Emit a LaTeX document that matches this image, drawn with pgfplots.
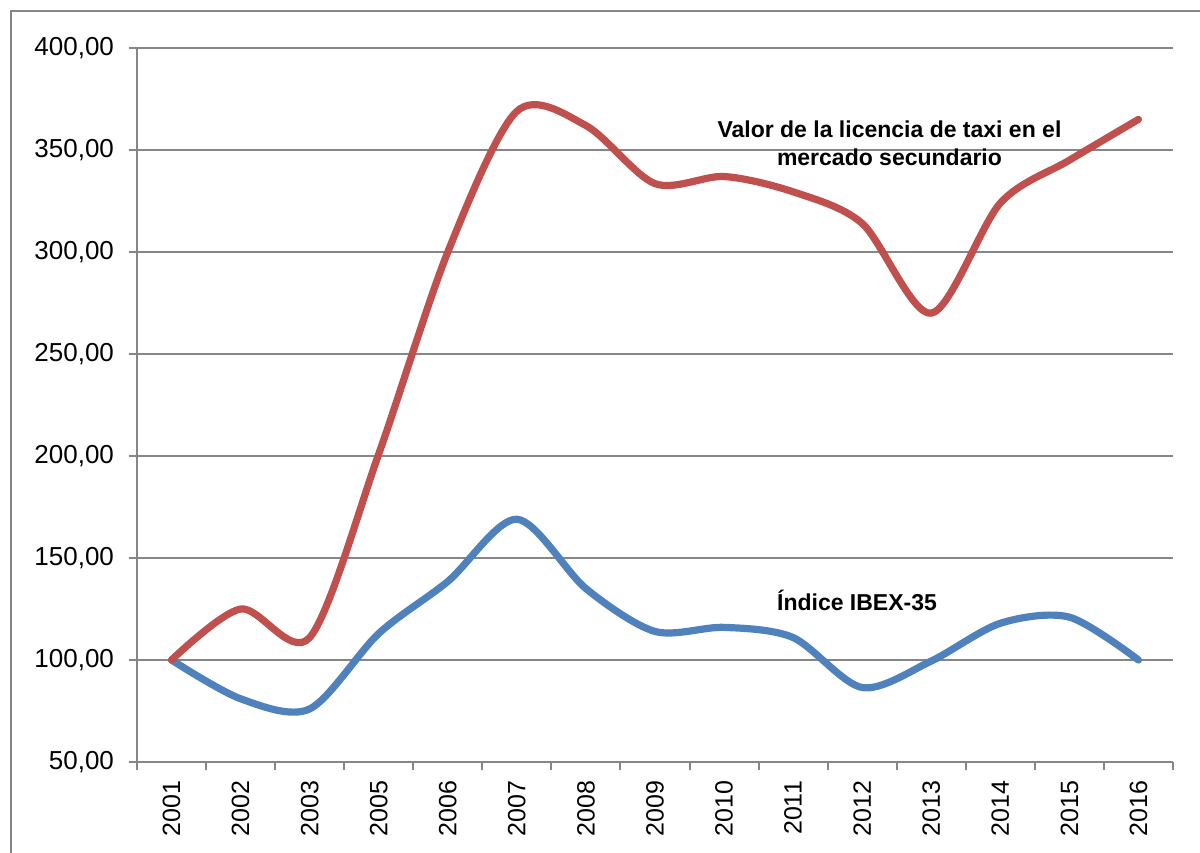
\documentclass[border=0pt]{standalone}
\usepackage{pgfplots}
\pgfplotsset{compat=1.18}
\usepackage{fontspec}
\setmainfont{Liberation Sans}
\definecolor{exred}{HTML}{C0504D}
\definecolor{exblue}{HTML}{4F81BD}
\definecolor{exgrid}{HTML}{868686}
\begin{document}
\begin{tikzpicture}
\useasboundingbox (-68.5pt,-45pt) rectangle (531.5pt,381pt);
\draw[exgrid, line width=1.25pt] (-63pt,-46pt) -- (-63pt,375.5pt) -- (532pt,375.5pt);
\begin{axis}[
  at={(0,0)}, anchor=south west,
  scale only axis, width=518pt, height=357pt,
  xmin=-0.5, xmax=14.5, ymin=50, ymax=400,
  axis lines*=left,
  axis line style={exgrid, line width=1pt, -},
  ytick={50,100,...,400},
  ymajorgrids,
  grid style={exgrid, line width=1pt},
  tick align=outside,
  major tick length=4pt,
  tick style={exgrid, line width=1pt},
  xtick={-0.5,0.5,...,14.5},
  xticklabels={},
  extra x ticks={0,1,...,14},
  extra x tick labels={2001,2002,2003,2005,2006,2007,2008,2009,2010,2011,2012,2013,2014,2015,2016},
  extra x tick style={major tick length=0pt},
  xticklabel style={yshift=-6pt, rotate=90, anchor=east, font=\fontsize{12.5}{14}\selectfont},
  yticklabel style={xshift=-4pt, font=\fontsize{13}{15}\selectfont},
  /pgf/number format/fixed,
  /pgf/number format/fixed zerofill,
  /pgf/number format/precision=2,
  /pgf/number format/use comma,
  /pgf/number format/1000 sep={},
  /pgf/number format/assume math mode=true,
  clip=false,
]
\addplot[exblue, line width=3.6pt, smooth, line cap=round, line join=round] coordinates {
(0,100) (1,81) (2,76) (3,113) (4,138.5) (5,169) (6,135) (7,114) (8,116) (9,111) (10,86.5) (11,99.5) (12,118) (13,121) (14,100)};
\addplot[exred, line width=3.6pt, smooth, line cap=round, line join=round] coordinates {
(0,100) (1,125) (2,111) (3,201) (4,300) (5,369) (6,362) (7,333.5) (8,337) (9,329.5) (10,314) (11,270) (12,324) (13,345) (14,365)};
\node[font=\bfseries\fontsize{11.5}{13}\selectfont, anchor=base] at (axis cs:10.395,355.9) {Valor de la licencia de taxi en el};
\node[font=\bfseries\fontsize{11.5}{13}\selectfont, anchor=base] at (axis cs:10.395,342.6) {mercado secundario};
\node[font=\bfseries\fontsize{11.5}{13}\selectfont, anchor=base] at (axis cs:9.925,124.5) {Índice IBEX-35};
\end{axis}
\end{tikzpicture}
\end{document}
